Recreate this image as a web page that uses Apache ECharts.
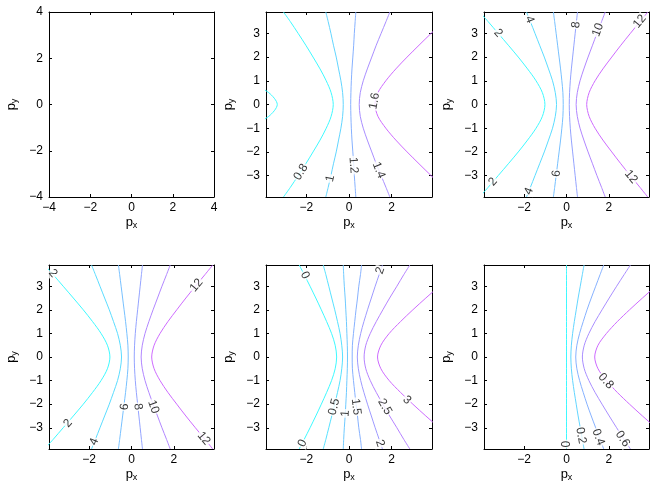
<!DOCTYPE html>
<html><head><meta charset="utf-8">
<script src="https://cdn.jsdelivr.net/npm/echarts@6/dist/echarts.min.js"></script>
<style>html,body{margin:0;padding:0;background:#fff}#c{width:654px;height:491px}</style>
</head><body><div id="c"></div>
<script>
// ---------- data ----------
const pyGrid = [-3.9,-3.5,-3,-2.5,-2,-1.5,-1,-0.5,0,0.5,1,1.5,2,2.5,3,3.5,3.9];

// panel 1: empty axes
const ticks1 = [-4,-2,0,2,4];
// other panels
const xTicks = [-2,0,2];
const yTicks = [-3,-2,-1,0,1,2,3];

// panel 2 contours (px values along pyGrid)
const levels2 = [0.8, 0.8, 1, 1.2, 1.4, 1.6];
const contours2 = [
  [-3.08,-2.76,-2.39,-2.03,-1.69,-1.36,-1.07,-0.84,-0.74,-0.84,-1.07,-1.36,-1.69,-2.03,-2.39,-2.76,-3.08],
  [-13.57,-12.27,-10.66,-9.08,-7.54,-6.08,-4.77,-3.77,-3.37,-3.77,-4.77,-6.08,-7.54,-9.08,-10.66,-12.27,-13.57],
  [-1.09,-0.98,-0.85,-0.73,-0.60,-0.49,-0.38,-0.30,-0.27,-0.30,-0.38,-0.49,-0.60,-0.73,-0.85,-0.98,-1.09],
  [0.32,0.29,0.25,0.22,0.18,0.14,0.11,0.09,0.08,0.09,0.11,0.14,0.18,0.22,0.25,0.29,0.32],
  [1.92,1.74,1.51,1.28,1.07,0.86,0.67,0.53,0.48,0.53,0.67,0.86,1.07,1.28,1.51,1.74,1.92],
  [4.91,4.44,3.86,3.29,2.73,2.20,1.73,1.36,1.22,1.36,1.73,2.20,2.73,3.29,3.86,4.44,4.91]
];
const labels2 = [[-2.26,-2.85,'0.8',57],[-0.88,-3.12,'1',77],[0.21,-2.56,'1.2',-86],[1.40,-2.77,'1.4',-68],[1.2,0.15,'1.6',80]];

// panels 3 and 4 contours
const levels3 = [2, 4, 6, 8, 10, 12];
const contours3 = [
  [-4.11,-3.71,-3.23,-2.75,-2.28,-1.84,-1.44,-1.14,-1.02,-1.14,-1.44,-1.84,-2.28,-2.75,-3.23,-3.71,-4.11],
  [-1.89,-1.71,-1.49,-1.27,-1.05,-0.85,-0.66,-0.53,-0.47,-0.53,-0.66,-0.85,-1.05,-1.27,-1.49,-1.71,-1.89],
  [-0.62,-0.56,-0.49,-0.42,-0.35,-0.28,-0.22,-0.17,-0.155,-0.17,-0.22,-0.28,-0.35,-0.42,-0.49,-0.56,-0.62],
  [0.52,0.47,0.41,0.35,0.29,0.23,0.18,0.145,0.13,0.145,0.18,0.23,0.29,0.35,0.41,0.47,0.52],
  [1.83,1.66,1.44,1.23,1.02,0.82,0.64,0.51,0.455,0.51,0.64,0.82,1.02,1.23,1.44,1.66,1.83],
  [3.84,3.48,3.02,2.57,2.14,1.72,1.35,1.07,0.955,1.07,1.35,1.72,2.14,2.57,3.02,3.48,3.84]
];
const labels3 = [[-3.23,3.01,'2',-49],[-3.48,-3.26,'2',49],[-1.75,3.58,'4',-68],[-1.78,-3.65,'4',68],[-0.48,-2.91,'6',82],[0.45,3.36,'8',84],[1.49,3.15,'10',69],[3.46,3.5,'12',50],[3.05,-3.05,'12',-50]];
const levels4 = levels3;
const contours4 = contours3;
const labels4 = [[-3.71,3.55,'2',-49],[-3.0,-2.81,'2',49],[-1.76,-3.59,'4',68],[-0.33,-2.11,'6',83],[0.30,-2.11,'8',-83],[1.03,-2.11,'10',-70],[3.07,3.04,'12',50],[3.42,-3.45,'12',-50]];

// panel 5
const levels5 = [0, 0.5, 1, 1.5, 2, 2.5, 3];
const contours5 = [
  [-2.34,-2.11,-1.83,-1.56,-1.30,-1.05,-0.82,-0.65,-0.58,-0.65,-0.82,-1.05,-1.30,-1.56,-1.83,-2.11,-2.34],
  [-1.21,-1.09,-0.95,-0.81,-0.67,-0.54,-0.42,-0.34,-0.30,-0.34,-0.42,-0.54,-0.67,-0.81,-0.95,-1.09,-1.21],
  [-0.27,-0.25,-0.22,-0.18,-0.15,-0.12,-0.10,-0.08,-0.07,-0.08,-0.10,-0.12,-0.15,-0.18,-0.22,-0.25,-0.27],
  [0.59,0.54,0.46,0.40,0.33,0.27,0.21,0.16,0.15,0.16,0.21,0.27,0.33,0.40,0.46,0.54,0.59],
  [1.57,1.42,1.23,1.05,0.87,0.70,0.55,0.44,0.39,0.44,0.55,0.70,0.87,1.05,1.23,1.42,1.57],
  [2.86,2.58,2.25,1.91,1.59,1.28,1.00,0.79,0.71,0.79,1.00,1.28,1.59,1.91,2.25,2.58,2.86],
  [5.39,4.88,4.24,3.61,3.00,2.42,1.89,1.50,1.34,1.50,1.89,2.42,3.00,3.61,4.24,4.88,5.39]
];
const labels5 = [[-2.07,3.46,'0',-64],[-2.18,-3.66,'0',64],[-0.70,-2.11,'0.5',76],[-0.17,-2.39,'1',87],[0.33,-2.11,'1.5',-83],[1.68,-2.11,'2.5',-60],[1.45,-3.66,'2',-71],[1.47,3.67,'2',71],[2.72,-1.83,'3',-43]];

// panel 6
const levels6 = [0, 0.2, 0.4, 0.6, 0.8];
const contours6 = [
  [0,0,0,0,0,0,0,0,0,0,0,0,0,0,0,0,0],
  [0.83,0.75,0.65,0.55,0.46,0.37,0.29,0.23,0.205,0.23,0.29,0.37,0.46,0.55,0.65,0.75,0.83],
  [1.76,1.59,1.38,1.17,0.97,0.79,0.62,0.49,0.436,0.49,0.62,0.79,0.97,1.17,1.38,1.59,1.76],
  [3.02,2.73,2.37,2.02,1.68,1.35,1.06,0.84,0.75,0.84,1.06,1.35,1.68,2.02,2.37,2.73,3.02],
  [5.37,4.85,4.22,3.59,2.98,2.40,1.89,1.49,1.333,1.49,1.89,2.40,2.98,3.59,4.22,4.85,5.37]
];
const labels6 = [[0,-3.7,'0',90],[0.68,-3.33,'0.2',-80],[1.5,-3.4,'0.4',-69],[2.65,-3.47,'0.6',-57],[1.86,-1.02,'0.8',-49]];

// ---------- layout / style ----------
const FONT = "'Liberation Sans', Arial, Helvetica, sans-serif";
const cols = [{left:49,width:165},{left:266,width:166},{left:484,width:165}];
const rows = [{top:12,height:185},{top:265,height:184}];
const panels = [
  {r:0,c:0,range:4,xt:ticks1,yt:ticks1,levels:[],contours:[],labels:[]},
  {r:0,c:1,range:3.9,xt:xTicks,yt:yTicks,levels:levels2,contours:contours2,labels:labels2},
  {r:0,c:2,range:3.9,xt:xTicks,yt:yTicks,levels:levels3,contours:contours3,labels:labels3},
  {r:1,c:0,range:3.9,xt:xTicks,yt:yTicks,levels:levels4,contours:contours4,labels:labels4},
  {r:1,c:1,range:3.9,xt:xTicks,yt:yTicks,levels:levels5,contours:contours5,labels:labels5},
  {r:1,c:2,range:3.9,xt:xTicks,yt:yTicks,levels:levels6,contours:contours6,labels:labels6}
];
function cool(t){
  const mix = 0.22;
  const u = 0.03 + 0.72*t;
  const r = 255*u, g = 255*(1-u), b = 255;
  const f = v => Math.round(v + (255-v)*mix);
  return 'rgb(' + f(r) + ',' + f(g) + ',' + f(b) + ')';
}
const fmt = v => String(v).replace('-', '\u2212');
const grid = [], xAxis = [], yAxis = [], series = [];
const rich = {p:{fontSize:13,fontFamily:FONT,color:'#000'}, s:{fontSize:9,fontFamily:FONT,color:'#000',padding:[7,0,0,0]}};
panels.forEach((P,g)=>{
  grid.push({left:cols[P.c].left, width:cols[P.c].width, top:rows[P.r].top, height:rows[P.r].height, containLabel:false});
  const line = {show:true, onZero:false, lineStyle:{color:'#000', width:1}};
  const tick = vals => ({show:true, inside:true, length:3, customValues:vals, lineStyle:{color:'#000'}});
  xAxis.push({gridIndex:g, type:'value', position:'bottom', min:-P.range, max:P.range, axisLine:line, axisTick:tick(P.xt),
    axisLabel:{customValues:P.xt, formatter:fmt, fontSize:12, fontFamily:FONT, color:'#000', margin:5},
    splitLine:{show:false}, name:'{p|p}{s|x}', nameLocation:'middle', nameGap:17, nameTextStyle:{rich:rich}});
  xAxis.push({gridIndex:g, type:'value', position:'top', min:-P.range, max:P.range, axisLine:line, axisTick:tick(P.xt), axisLabel:{show:false}, splitLine:{show:false}});
  yAxis.push({gridIndex:g, type:'value', position:'left', min:-P.range, max:P.range, axisLine:line, axisTick:tick(P.yt),
    axisLabel:{customValues:P.yt, formatter:fmt, fontSize:12, fontFamily:FONT, color:'#000', margin:6},
    splitLine:{show:false}, name:'{p|p}{s|y}', nameLocation:'middle', nameGap:30, nameRotate:90, nameTextStyle:{rich:rich}});
  yAxis.push({gridIndex:g, type:'value', position:'right', min:-P.range, max:P.range, axisLine:line, axisTick:tick(P.yt), axisLabel:{show:false}, splitLine:{show:false}});
  const uniq = [...new Set(P.levels)].sort((a,b)=>a-b);
  P.contours.forEach((pxs,i)=>{
    const t = uniq.length>1 ? uniq.indexOf(P.levels[i])/(uniq.length-1) : 0;
    series.push({type:'line', xAxisIndex:2*g, yAxisIndex:2*g, data:pxs.map((x,k)=>[x,pyGrid[k]]),
      symbol:'none', smooth:0.3, clip:true, silent:true, lineStyle:{width:1, color:cool(t)}, z:2});
  });
  if (P.labels.length) series.push({type:'scatter', xAxisIndex:2*g, yAxisIndex:2*g, symbolSize:1, silent:true,
    itemStyle:{color:'rgba(0,0,0,0)'}, z:10, clip:false,
    data:P.labels.map(l=>({value:[l[0],l[1]], name:l[2], label:{rotate:l[3]}})),
    label:{show:true, position:'inside', formatter:p=>p.name, fontSize:12, fontFamily:FONT, color:'#000', backgroundColor:'#fff', padding:[0,1]}});
});
const chart = echarts.init(document.getElementById('c'), null, {renderer:'canvas'});
chart.setOption({animation:false, backgroundColor:'#fff', grid, xAxis, yAxis, series});
</script></body></html>
